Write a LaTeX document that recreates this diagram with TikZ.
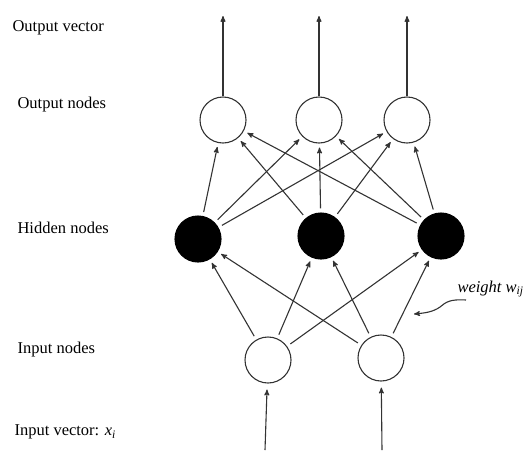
\documentclass[tikz,border=0pt]{standalone}
\usepackage{fontspec}
\setmainfont{Liberation Serif}
\usetikzlibrary{arrows,positioning}

\begin{document}
\begin{tikzpicture}[x=1pt,y=-1pt,>=stealth',line width=1.1pt,
    every node/.style={font=\fontsize{16.5}{19}\selectfont},
    unit/.style={circle,draw=black!80,line width=1.1pt,minimum size=46pt,inner sep=0pt},
    hidden/.style={unit,fill=black,draw=black},
    layer/.style={anchor=west,inner sep=0pt},
    link/.style={->,draw=black!80,shorten >=4pt,shorten <=4pt}]

    \useasboundingbox (0,0) rectangle (532,464);

    % layer names
    \node[layer] (lov) at (12,28) {Output vector};
    \node[layer] (lon) at (17,105) {Output nodes};
    \node[layer] (lhn) at (17,228) {Hidden nodes};
    \node[layer] (lin) at (17,350) {Input nodes};
    \node[layer] (liv) at (14,432) {Input vector: \textit{x}\textsubscript{\textit{i}}};

    % units
    \node[unit] (o1) at (223,120) {};
    \node[unit] (o2) at (319,120) {};
    \node[unit] (o3) at (407,120) {};

    \node[hidden] (h1) at (198,239) {};
    \node[hidden] (h2) at (321,236) {};
    \node[hidden] (h3) at (441,236) {};

    \node[unit] (i1) at (268,360) {};
    \node[unit] (i2) at (381,358) {};

    % free ends
    \coordinate (y1) at (223,16);
    \coordinate (y2) at (319,16);
    \coordinate (y3) at (407,16);
    \coordinate (x1) at (265,450);
    \coordinate (x2) at (382,450);

    \draw[->,black!80] (o1) -- (y1);
    \draw[->,black!80] (o2) -- (y2);
    \draw[->,black!80] (o3) -- (y3);
    \draw[->,black!80,shorten >=6pt] (x1) -- (i1);
    \draw[->,black!80,shorten >=6pt] (x2) -- (i2);

    % weights
    \foreach \i in {1,2}
        \foreach \h in {1,2,3}
            \draw[link] (i\i) -- (h\h);
    \foreach \h in {1,2,3}
        \foreach \o in {1,2,3}
            \draw[link] (h\h) -- (o\o);

    % weight label
    \node[anchor=west,inner sep=0pt] (w) at (457,289) {\textit{weight w\textsubscript{ij}}};
    \coordinate (wstart) at (466,300);
    \coordinate (wtip) at (414,314);
    \draw[->,black!80] (wstart) .. controls (450,299) and (446,302) .. (440,307)
        .. controls (433,312) and (425,313) .. (wtip);
\end{tikzpicture}
\end{document}
